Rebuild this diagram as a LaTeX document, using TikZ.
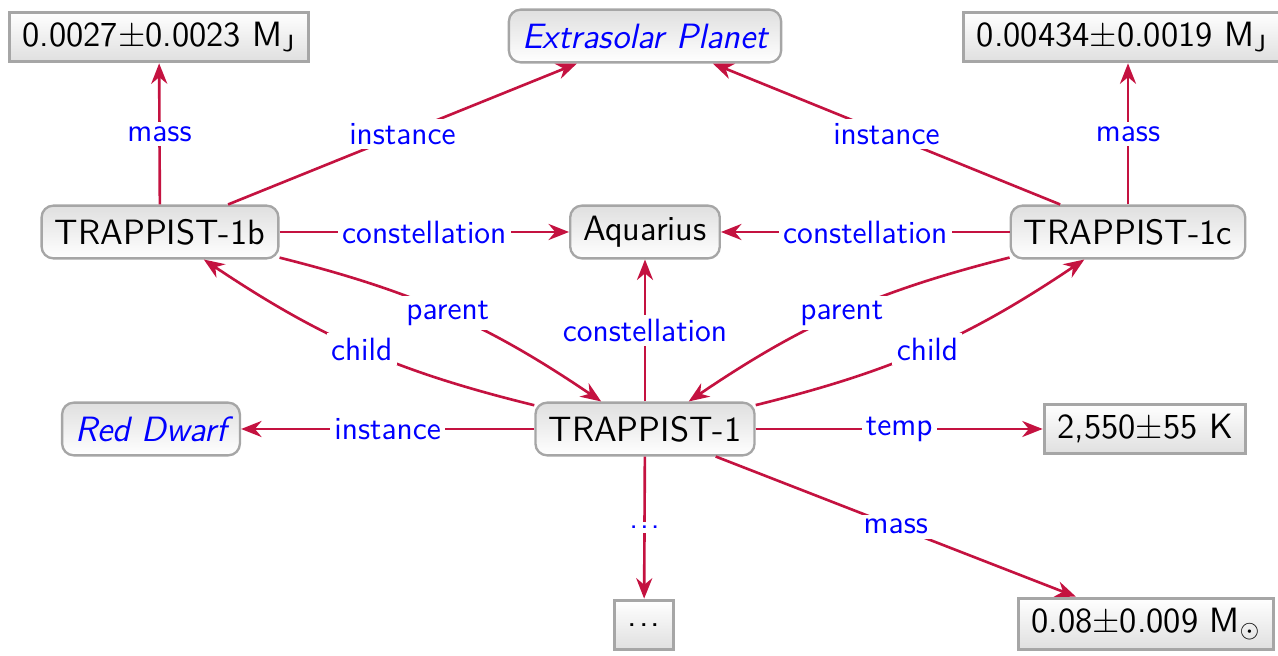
\documentclass[tikz,border=0pt]{standalone}
\usetikzlibrary{arrows.meta}
\definecolor{edgered}{RGB}{196,18,64}
\newcommand{\dotsep}{.\kern0.7pt.\kern0.7pt.}
\begin{document}
\begin{tikzpicture}[x=1.2cm,y=-1.2cm,>={Stealth[length=7pt,width=5.5pt]},
  font=\sffamily\fontsize{12}{14}\selectfont,
  obj/.style={draw=gray!70, line width=0.8pt, rectangle, rounded corners=4pt, top color=gray!25, bottom color=white, inner xsep=4.5pt, minimum height=18pt},
  cls/.style={obj, text=blue, font=\sffamily\itshape\fontsize{12}{14}\selectfont},
  val/.style={draw=gray!70, line width=1pt, rectangle, top color=white, bottom color=gray!25, inner xsep=4.5pt, minimum height=17pt},
  rel/.style={->, draw=edgered, line width=0.9pt},
  lbl/.style={fill=white, text=blue, font=\sffamily\fontsize{11}{13}\selectfont, inner sep=1.5pt}]
\useasboundingbox (0,0) rectangle (12.78,6.56);
\node[val] (m1) at (1.59,0.37) {0.0027$\pm$0.0023 M$_\mathsf{J}$};
\node[cls] (ep) at (6.45,0.36) {Extrasolar Planet};
\node[val] (m2) at (11.22,0.37) {0.00434$\pm$0.0019 M$_\mathsf{J}$};
\node[obj] (t1b) at (1.60,2.32) {TRAPPIST-1b};
\node[obj] (aq) at (6.45,2.32) {Aquarius};
\node[obj] (t1c) at (11.28,2.32) {TRAPPIST-1c};
\node[cls] (rd) at (1.51,4.29) {Red Dwarf};
\node[obj] (t1) at (6.45,4.29) {TRAPPIST-1};
\node[val] (tp) at (11.45,4.29) {2,550$\pm$55 K};
\node[val, minimum width=18pt] (dots) at (6.44,6.25) {\dotsep};
\node[val] (m0) at (11.46,6.24) {0.08$\pm$0.009 M$_\odot$};
% planet b
\draw[rel] (t1b) -- node[lbl] {mass} (m1);
\draw[rel] (t1b) -- node[lbl] {instance} (ep);
\draw[rel] (t1b) -- node[lbl] {constellation} (aq);
\draw[rel] (t1b) to[bend left=10] node[lbl] {parent} (t1);
% planet c
\draw[rel] (t1c) -- node[lbl] {mass} (t1c |- m2.south);
\draw[rel] (t1c) -- node[lbl] {instance} (ep);
\draw[rel] (t1c) -- node[lbl] {constellation} (aq);
\draw[rel] (t1c) to[bend right=10] node[lbl] {parent} (t1);
% star
\draw[rel] (t1) to[bend left=10] node[lbl] {child} (t1b);
\draw[rel] (t1) to[bend right=10] node[lbl] {child} (t1c);
\draw[rel] (t1) -- node[lbl] {constellation} (aq);
\draw[rel] (t1) -- node[lbl] {instance} (rd);
\draw[rel] (t1) -- node[lbl] {temp} (tp);
\draw[rel] (t1) -- node[lbl] {\dotsep} (dots);
\draw[rel] (t1) -- node[lbl] {mass} (m0);
\end{tikzpicture}
\end{document}
